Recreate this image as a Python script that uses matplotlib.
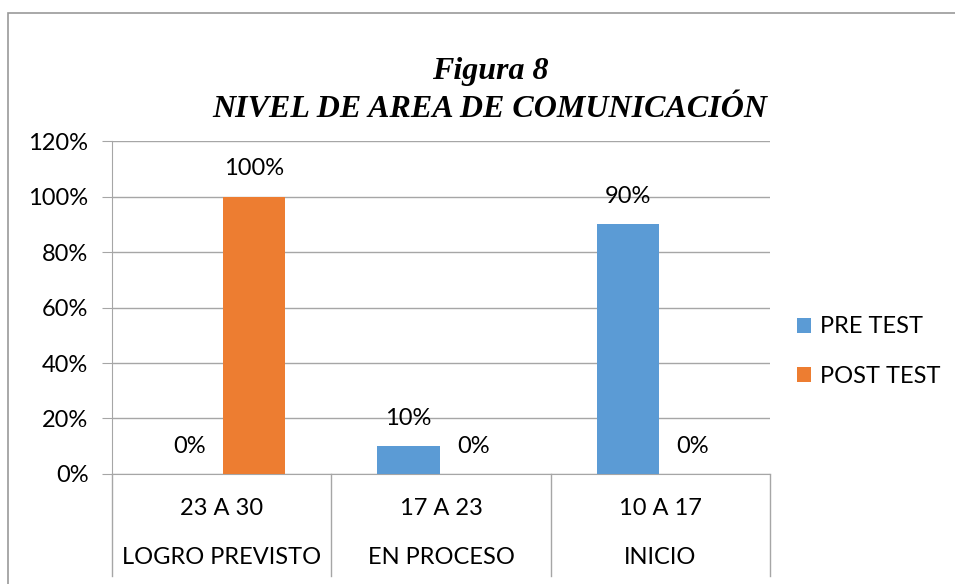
import numpy as np
import matplotlib
matplotlib.use("Agg")
import matplotlib.pyplot as plt
from matplotlib.patches import Rectangle
from matplotlib.transforms import blended_transform_factory

# data
rangos = ["23 A 30", "17 A 23", "10 A 17"]
niveles = ["LOGRO PREVISTO", "EN PROCESO", "INICIO"]
pre_test = [0.0, 0.10, 0.90]
post_test = [1.00, 0.0, 0.0]
series_names = ["PRE TEST", "POST TEST"]

azul = "#5B9BD5"
naranja = "#ED7D31"
gris = "#A6A6A6"
fuente = "Lato"
tam = 17

fig = plt.figure(figsize=(9.55, 5.84), dpi=100)
ax = fig.add_axes([0.1173, 0.1884, 0.689, 0.570])

x = np.arange(len(rangos))
w = 0.285
b1 = ax.bar(x - w / 2 - 0.005, pre_test, w, color=azul, label=series_names[0], zorder=3)
b2 = ax.bar(x + w / 2 + 0.005, post_test, w, color=naranja, label=series_names[1], zorder=3)

for bars, vals in ((b1, pre_test), (b2, post_test)):
    for r, v in zip(bars, vals):
        ax.annotate("%d%%" % round(v * 100), (r.get_x() + r.get_width() / 2, v),
                    xytext=(0, 20), textcoords="offset points", ha="center", va="center",
                    fontsize=tam, family=fuente, color="#000000")

ax.set_xlim(-0.5, 2.5)
ax.set_ylim(0, 1.2)
ax.set_yticks(np.arange(0, 1.21, 0.2))
ax.set_yticklabels(["%d%%" % round(t * 100) for t in np.arange(0, 1.21, 0.2)],
                   fontsize=tam, family=fuente)
ax.tick_params(axis="y", length=7, color=gris, pad=10)
ax.set_xticks([])
ax.grid(axis="y", color=gris, linewidth=1, zorder=0)
for s in ["top", "right"]:
    ax.spines[s].set_visible(False)
ax.spines["left"].set_color(gris)
ax.spines["bottom"].set_color(gris)

# category separators and two-level labels below the axis
tr = blended_transform_factory(ax.transData, fig.transFigure)
for xs in [-0.5, 0.5, 1.5, 2.5]:
    ax.plot([xs, xs], [0.0137, 0.1884], transform=tr, color=gris, lw=1, clip_on=False)
for i in range(len(rangos)):
    ax.text(i, 0.130, rangos[i], transform=tr, ha="center", va="center",
            fontsize=tam, family=fuente)
    ax.text(i, 0.046, niveles[i], transform=tr, ha="center", va="center",
            fontsize=tam, family=fuente)

fig.text(0.513, 0.845, "Figura 8\nNIVEL DE AREA DE COMUNICACIÓN", ha="center", va="center",
         fontsize=23, family="Liberation Serif", weight="bold", style="italic",
         linespacing=1.45)

leg = fig.legend(loc="center left", bbox_to_anchor=(0.812, 0.398), frameon=False,
                 prop={"family": fuente, "size": tam}, handlelength=0.6, handleheight=0.6,
                 handletextpad=0.4, labelspacing=1.2)

fig.patches.append(Rectangle((0.008, -0.05), 1.1, 1.028, transform=fig.transFigure,
                             fill=False, edgecolor="#999999", lw=1.2))

fig.savefig("out.png", dpi=100)
